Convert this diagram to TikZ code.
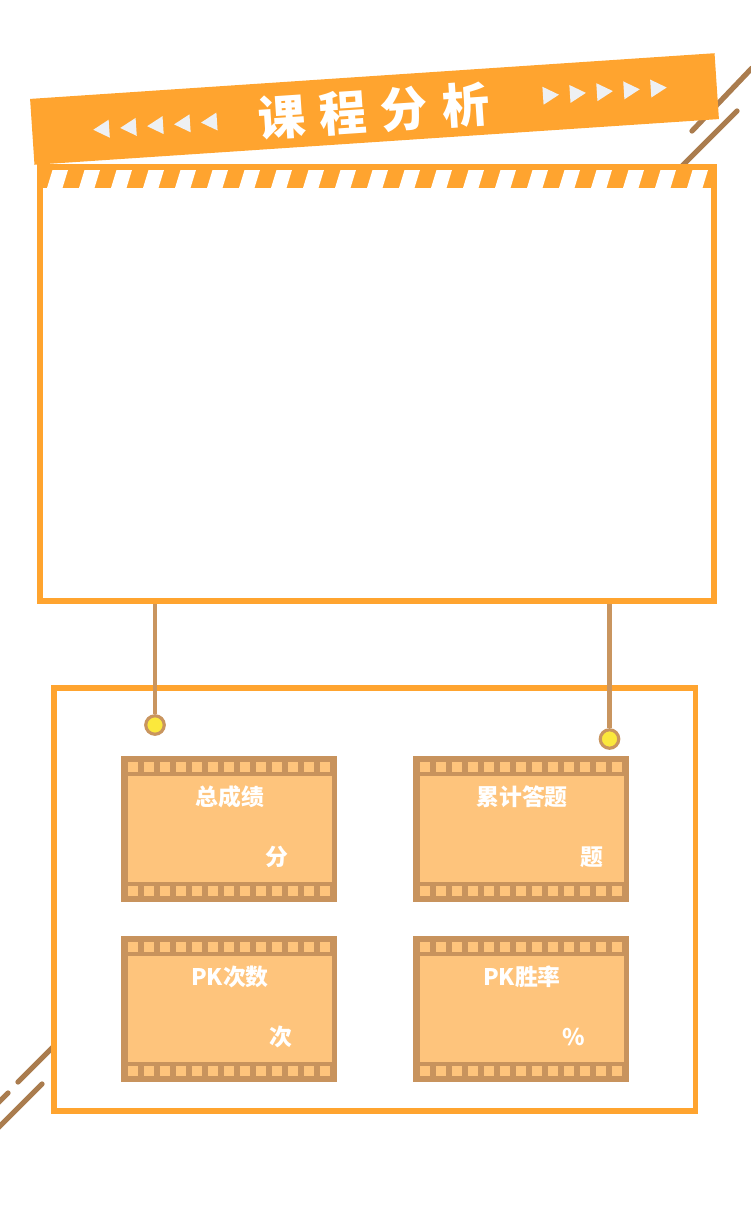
\documentclass[tikz,border=0pt]{standalone}
\usepackage{fontspec}
\newfontfamily\cjkfont{Noto Sans CJK SC}
\usepackage{xcolor}
\definecolor{ORANGEcolor}{HTML}{FFA42F}
\definecolor{LINEcolor}{HTML}{AA7C4E}
\definecolor{STRINGcolor}{HTML}{C9955F}
\definecolor{FILMcolor}{HTML}{C8935D}
\definecolor{FILMFILLcolor}{HTML}{FEC47C}
\definecolor{DOTcolor}{HTML}{FBE83C}
\definecolor{ARROWcolor}{HTML}{EEF0F3}
\usepackage{tikz}
\usetikzlibrary{math, calc}

\begin{document}
\begin{tikzpicture}[x=0.02cm, y=-0.02cm]
    \tikzset{%
        slash/.style={LINEcolor, line width=3pt, line cap=round},
        boxframe/.style={draw=ORANGEcolor, line width=3.4pt},
        hangline/.style={draw=STRINGcolor, line width=2.6pt},
        hangdot/.style={circle, draw=STRINGcolor, fill=DOTcolor, line width=1.8pt, minimum size=0.37cm, inner sep=0pt},
        filmtext/.style={text=white, inner sep=0pt, font=\cjkfont\bfseries\fontsize{13pt}{15pt}\selectfont},
        pics/filmbox/.style args={#1/#2/#3}{code={%
                        % film border
                        \fill [FILMcolor] (0, 0) rectangle (216, 146);
                        \fill [FILMFILLcolor] (6.5, 20) rectangle (210.5, 126);
                        % sprocket holes
                        \foreach \i in {0, ..., 12} {%
                                \fill [FILMFILLcolor] ({6.5+16*\i}, 6) rectangle ++(10, 9.5);
                                \fill [FILMFILLcolor] ({6.5+16*\i}, 130) rectangle ++(10, 10);
                            };
                        \node [filmtext] (-title) at (109, 41) {#1};
                        \node [filmtext] (-unit) at (#3, 101) {#2};
                    }
            }
    }

    \useasboundingbox (0, 0) rectangle (750, 1206);

    % slashes
    \draw [slash] (752, 68) -- (692, 131);
    \draw [slash] (737, 111) -- (680, 168);
    \draw [slash] (54, 1046) -- (18, 1082);
    \draw [slash] (42, 1084) -- (-3, 1129);
    \draw [slash] (8, 1093) -- (-5, 1106);

    % top frame
    \fill [ORANGEcolor] (37, 164) rectangle (717, 188);
    \foreach \i in {0, ..., 20} {%
            \fill [white] ({47+32*\i}, 188) -- ++(15.5, 0) -- ++(5.5, -18) -- ++(-15.5, 0) -- cycle;
        };
    \draw [boxframe] (40, 167) rectangle (714, 601);

    % banner
    \begin{scope}[rotate around={3.82:(374.5, 109)}]
        \fill [ORANGEcolor] (31.5, 76) rectangle (717.5, 142);
        \foreach \i in {0, ..., 4} {%
                \fill [ARROWcolor] ({92.5+27*\i}, 111) -- ++(16, -9) -- ++(0, 18) -- cycle;
                \fill [ARROWcolor] ({559.5+27*\i}, 107) -- ++(-16, -9) -- ++(0, 18) -- cycle;
            };
        \node [transform shape, text=white, font=\cjkfont\bfseries\fontsize{27pt}{30pt}\selectfont] (title) at (373.5, 111) {课\hspace{8pt}程\hspace{8pt}分\hspace{8pt}析};
    \end{scope}

    % bottom frame
    \draw [boxframe] (53.7, 688) rectangle (695.5, 1110.5);

    % hanging dots
    \coordinate (hangL) at (155, 604);
    \coordinate (hangR) at (609.5, 604);
    \node [hangdot] (dotL) at (155, 725) {};
    \node [hangdot] (dotR) at (609.5, 739) {};
    \draw [hangline] (hangL) -- (dotL);
    \draw [hangline] (hangR) -- (dotR);

    % title/unit/unit x
    \pic (film1) at (121, 756) {filmbox=总成绩/分/156};
    \pic (film2) at (413, 756) {filmbox=累计答题/题/179};
    \pic (film3) at (121, 936) {filmbox=PK次数/次/160};
    \pic (film4) at (413, 936) {filmbox=PK胜率/\%/161};

\end{tikzpicture}
\end{document}
